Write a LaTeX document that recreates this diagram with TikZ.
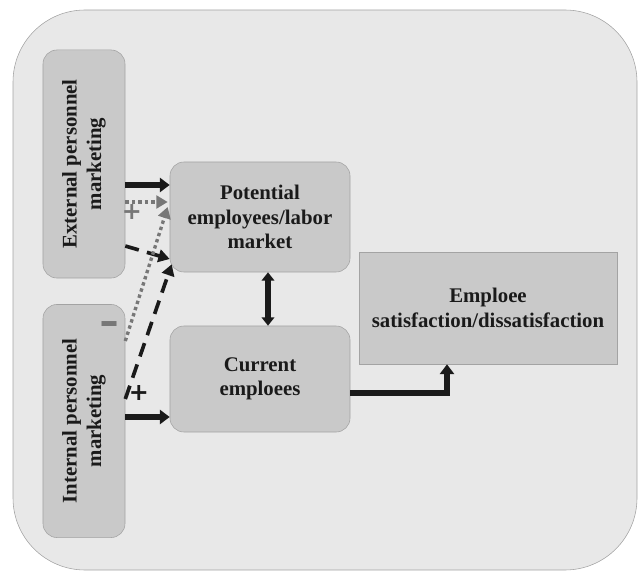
\documentclass[tikz,border=0pt]{standalone}
\usepackage{fontspec}
\setmainfont{Liberation Serif}
\newfontfamily\signfont{DejaVu Sans Bold}
\usetikzlibrary{arrows.meta,calc}
\definecolor{framefill}{HTML}{E8E8E8}
\definecolor{boxfill}{HTML}{C9C9C9}
\definecolor{edgegray}{HTML}{A3A3A3}
\definecolor{inkgray}{HTML}{777777}
\definecolor{ink}{HTML}{1A1A1A}
\begin{document}
\begin{tikzpicture}[x=0.025cm,y=-0.025cm]
\tikzset{box/.style = {draw=edgegray, fill=boxfill, rounded corners=0.35cm, align=center, text=ink,
    font=\bfseries\fontsize{14.8}{17.5}\selectfont, inner sep=2pt},
  solidarrow/.style = {draw=ink, line width=4pt, -{Triangle[length=7pt,width=10pt]}},
  dashedarrow/.style = {draw=ink, line width=2.6pt, dash pattern=on 10pt off 6pt, -{Triangle[length=8pt,width=9pt]}},
  dottedarrow/.style = {draw=inkgray, line width=2.4pt, dash pattern=on 2.4pt off 2.2pt, -{Triangle[length=8pt,width=9pt]}},
  sign/.style = {font=\signfont\fontsize{17}{17}\selectfont, inner sep=0pt}}
\useasboundingbox (0,0) rectangle (638,571);
\draw[draw=edgegray, fill=framefill, rounded corners=1.8cm] (13,10) rectangle (637,570);
\node[box, rotate=90, minimum width=5.7cm, minimum height=2.05cm] (ext) at (84,164) {External personnel\\marketing};
\node[box, rotate=90, minimum width=5.825cm, minimum height=2.05cm] (int) at (84,421) {Internal personnel\\marketing};
\node[box, minimum width=4.5cm, minimum height=2.75cm] (pot) at (260,217) {Potential\\employees/labor\\market};
\node[box, minimum width=4.5cm, minimum height=2.65cm] (cur) at (260,379) {Current\\emploees};
\node[box, rounded corners=0pt, minimum width=6.45cm, minimum height=2.8cm] (emp) at (488,308) {Emploee\\satisfaction/dissatisfaction};
\node[sign, text=inkgray] (plusext) at (132,212) {+};
\node[sign, text=inkgray] (minusint) at (110,330) {\scalebox{1}[1.8]{−}};
\node[sign, text=ink] (plusint) at (139,393) {+};
\draw[solidarrow] ($(ext.south)+(0,21)$) -- ($(pot.west)+(0,-32)$);
\draw[dottedarrow] ($(ext.south)+(0,38)$) -- ($(pot.west)+(-2,-15)$);
\draw[dashedarrow] ($(ext.south)+(0,82)$) -- ($(pot.west)+(0,42)$);
\draw[dottedarrow] ($(int.south)+(0,-80)$) -- ($(pot.west)+(-2,-10)$);
\draw[dashedarrow] ($(int.south)+(0,-22)$) -- ($(pot.south west)+(2,-8)$);
\draw[solidarrow] ($(int.south)+(0,-4)$) -- ($(cur.west)+(0,38)$);
\draw[draw=ink, line width=3.6pt, {Triangle[length=6pt,width=9pt]}-{Triangle[length=6pt,width=9pt]}] ($(pot.south)+(8,0)$) -- ($(cur.north)+(8,0)$);
\draw[solidarrow] ($(cur.east)+(0,14)$) -| ($(emp.south)+(-41,0)$);
\end{tikzpicture}
\end{document}
